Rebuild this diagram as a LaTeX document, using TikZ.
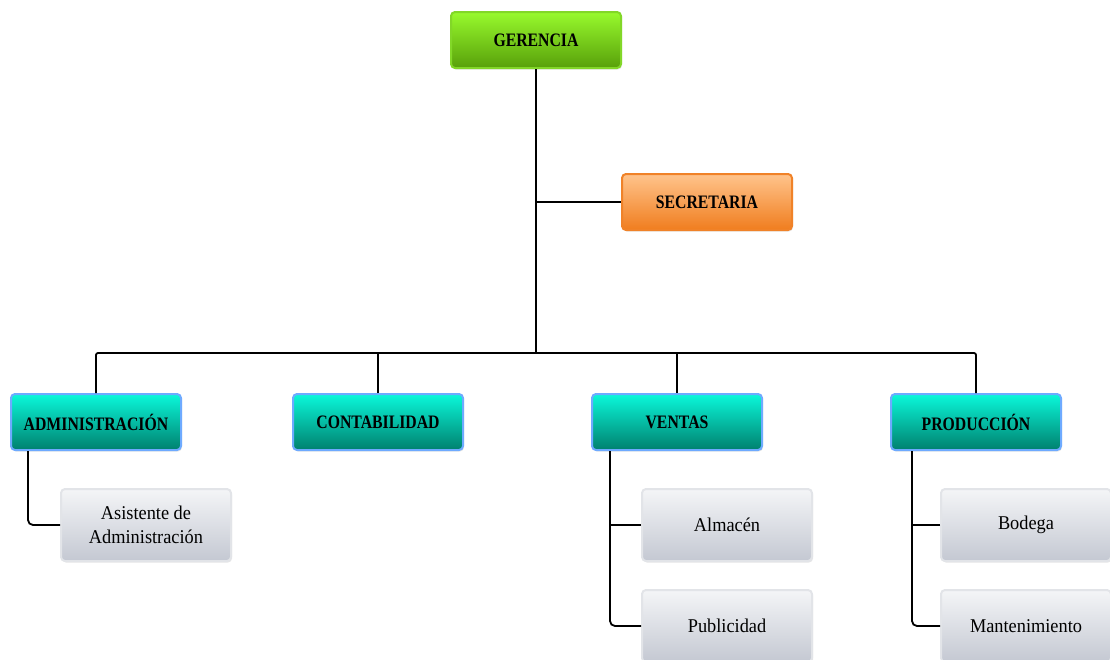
\documentclass[tikz,border=0pt]{standalone}
\usepackage{fontspec}
\setmainfont{Liberation Serif}
\newfontfamily\hdfont{Liberation Serif}[FakeStretch=0.83]
\newfontfamily\chfont{Liberation Serif}[FakeStretch=0.94]
\usetikzlibrary{shadows}
\definecolor{gtop}{RGB}{152,250,45}
\definecolor{gbot}{RGB}{88,160,10}
\definecolor{gline}{RGB}{130,215,40}
\definecolor{otop}{RGB}{255,196,140}
\definecolor{obot}{RGB}{240,125,30}
\definecolor{oline}{RGB}{240,130,40}
\definecolor{ttop}{RGB}{10,248,218}
\definecolor{tbot}{RGB}{0,128,110}
\definecolor{tline}{RGB}{110,170,255}
\definecolor{ctop}{RGB}{244,245,247}
\definecolor{cbot}{RGB}{196,200,210}
\definecolor{cline}{RGB}{226,228,232}
\tikzset{
  box/.style={rectangle, rounded corners=4pt, line width=2pt, minimum width=170pt,
    drop shadow={shadow xshift=1pt, shadow yshift=-1.5pt, opacity=0.2}},
  hdbox/.style={box, minimum height=56pt, font=\hdfont\bfseries\fontsize{19}{22}\selectfont},
  green/.style={hdbox, draw=gline, top color=gtop, bottom color=gbot},
  orange/.style={hdbox, draw=oline, top color=otop, bottom color=obot},
  teal/.style={hdbox, draw=tline, top color=ttop, bottom color=tbot},
  child/.style={box, draw=cline, top color=ctop, bottom color=cbot, minimum height=72pt,
    align=center, font=\chfont\fontsize{19.5}{24}\selectfont},
  conn/.style={line width=1.8pt, black},
}
\begin{document}
\begin{tikzpicture}[x=1pt,y=-1pt]
\useasboundingbox (0,0) rectangle (1110,659);
% level 1
\node[green] (ger) at (536,40) {GERENCIA};
\node[orange] (sec) at (707,202) {SECRETARIA};
% level 2
\node[teal] (adm) at (96,422) {ADMINISTRACIÓN};
\node[teal] (con) at (378,422) {CONTABILIDAD};
\node[teal] (ven) at (677,422) {VENTAS};
\node[teal] (pro) at (976,422) {PRODUCCIÓN};
% level 3
\node[child] (asi) at (146,525) {Asistente de\\Administración};
\node[child] (alm) at (727,525) {Almacén};
\node[child] (pub) at (727,626) {Publicidad};
\node[child] (bod) at (1026,525) {Bodega};
\node[child] (man) at (1026,626) {Mantenimiento};
% connectors
\coordinate (bus) at (536,353);
\coordinate (vadm) at (28,451);
\coordinate (vven) at (610,451);
\coordinate (vpro) at (912,451);
\draw[conn] (ger.south) -- (bus);
\draw[conn] (sec.west) -- (sec.west -| ger.south);
\draw[conn, rounded corners=2pt] (adm.north) -- (adm.north |- bus) -- (pro.north |- bus) -- (pro.north);
\draw[conn] (con.north) -- (con.north |- bus);
\draw[conn] (ven.north) -- (ven.north |- bus);
\draw[conn, rounded corners=5pt] (vadm) |- (asi.west);
\draw[conn, rounded corners=5pt] (vven) |- (pub.west);
\draw[conn] (alm.west) -- (alm.west -| vven);
\draw[conn, rounded corners=5pt] (vpro) |- (man.west);
\draw[conn] (bod.west) -- (bod.west -| vpro);
\end{tikzpicture}
\end{document}
